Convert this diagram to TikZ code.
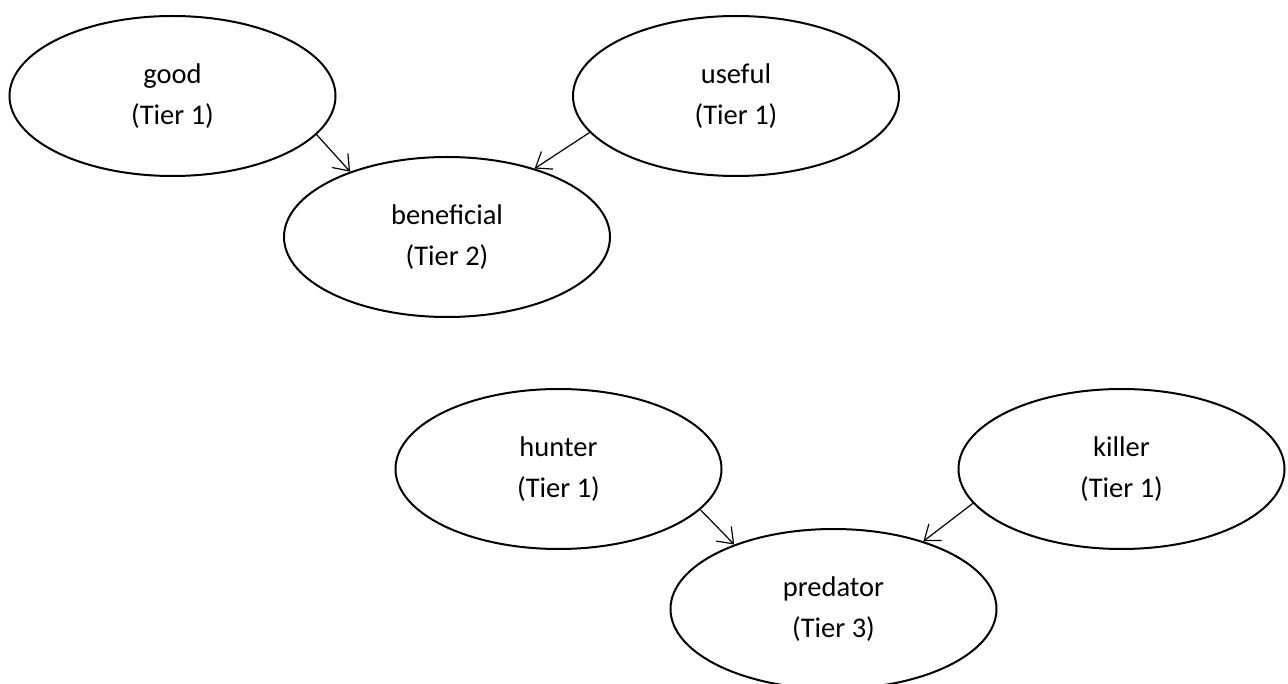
\documentclass[tikz,border=0pt]{standalone}
\usepackage{fontspec}
\setmainfont{Carlito}
\usetikzlibrary{shapes.geometric,arrows.meta}
\tikzset{
  tier/.style={ellipse, draw, line width=2pt, inner sep=0pt, minimum width=326pt, minimum height=160pt,
    align=center, font=\fontsize{28.5pt}{41pt}\selectfont},
  link/.style={line width=1.2pt, -{Straight Barb[length=14pt,width=21pt,line width=1.2pt]}}
}
\begin{document}
\begin{tikzpicture}[x=1pt,y=1pt]
\useasboundingbox (0,0) rectangle (1288,-684);
\node[tier] (good)   at (172.5,-96)  {good\\(Tier 1)};
\node[tier] (useful) at (736,-96)    {useful\\(Tier 1)};
\node[tier] (ben)    at (447,-237)   {beneficial\\(Tier 2)};
\node[tier] (hunter) at (558.5,-469) {hunter\\(Tier 1)};
\node[tier] (killer) at (1121.5,-469) {killer\\(Tier 1)};
\node[tier] (pred)   at (833.5,-609) {predator\\(Tier 3)};
\draw[link] (good.-15.5) -- (ben.146.6);
\draw[link] (useful.-166.8) -- (ben.38.7);
\draw[link] (hunter.-16.4) -- (pred.147.3);
\draw[link] (killer.-167.1) -- (pred.37.8);
\end{tikzpicture}
\end{document}
